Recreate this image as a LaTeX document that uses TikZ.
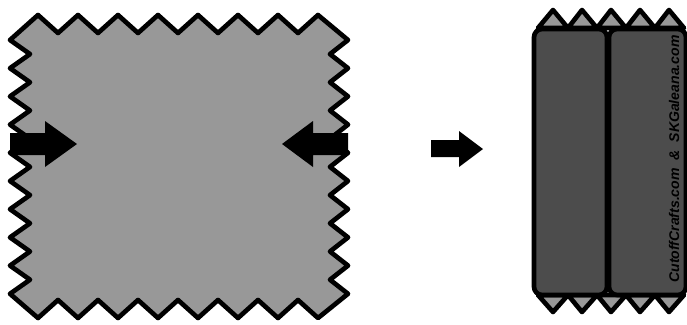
\documentclass[tikz,border=0pt]{standalone}
\usepackage{fontspec}
\usepackage{xcolor}
\usepackage{tikz}
\setmainfont{Liberation Sans}
\definecolor{fabricgray}{RGB}{152,152,152}
\definecolor{folddark}{RGB}{76,76,76}
\newcommand{\credit}[1]{\textbf{\textit{#1}}}

\begin{document}
\begin{tikzpicture}[
  x=0.3mm,y=-0.3mm,
  edge/.style={draw=black,line width=1.4mm,line join=round},
  cloth/.style={edge,fill=fabricgray},
  panel/.style={edge,fill=folddark,rounded corners=7},
  push/.style={fill=black}
]
\useasboundingbox (0,0) rectangle (687,324);

% flat square with pinked edges
\draw[cloth] (10,40)
  \foreach \k in {0,...,6} { -- ({38+40*\k},15) -- ({58+40*\k},33) }
  -- (318,15) -- (348,40)
  \foreach \k in {0,...,8} { -- (330,{54.1+28.2*\k}) -- (348,{68.2+28.2*\k}) }
  \foreach \k in {7,6,...,1} { -- ({38+40*\k},318) -- ({18+40*\k},300) }
  -- (38,318) -- (10,293.8)
  \foreach \k in {8,7,...,0} { -- (30,{54.1+28.2*\k}) -- (10,{40+28.2*\k}) }
  -- cycle;

% fold arrows
\fill[push] (10,133) -- (45,133) -- (45,121) -- (77,144) -- (45,167) -- (45,155) -- (10,155) -- cycle;
\fill[push] (348,133) -- (313,133) -- (313,121) -- (282,144) -- (313,167) -- (313,155) -- (348,155) -- cycle;
\fill[push] (431,140) -- (459,140) -- (459,131) -- (483,149) -- (459,167) -- (459,157) -- (431,157) -- cycle;

% folded strip
\draw[cloth] (538,28)
  \foreach \k in {0,...,4} { -- ({553+29*\k},10) -- ({568+29*\k},28) } -- cycle;
\draw[cloth] (538,295)
  \foreach \k in {0,...,4} { -- ({553+29*\k},312) -- ({568+29*\k},295) } -- cycle;
\draw[panel] (534,29) rectangle (607,295);
\draw[panel] (609,29) rectangle (686,295);
\node[rotate=90,font=\fontsize{12}{14}\selectfont,inner sep=0pt] (credit) at (674,159)
  {\credit{CutoffCrafts.com~~\&~~SKGaleana.com}};
\end{tikzpicture}
\end{document}
